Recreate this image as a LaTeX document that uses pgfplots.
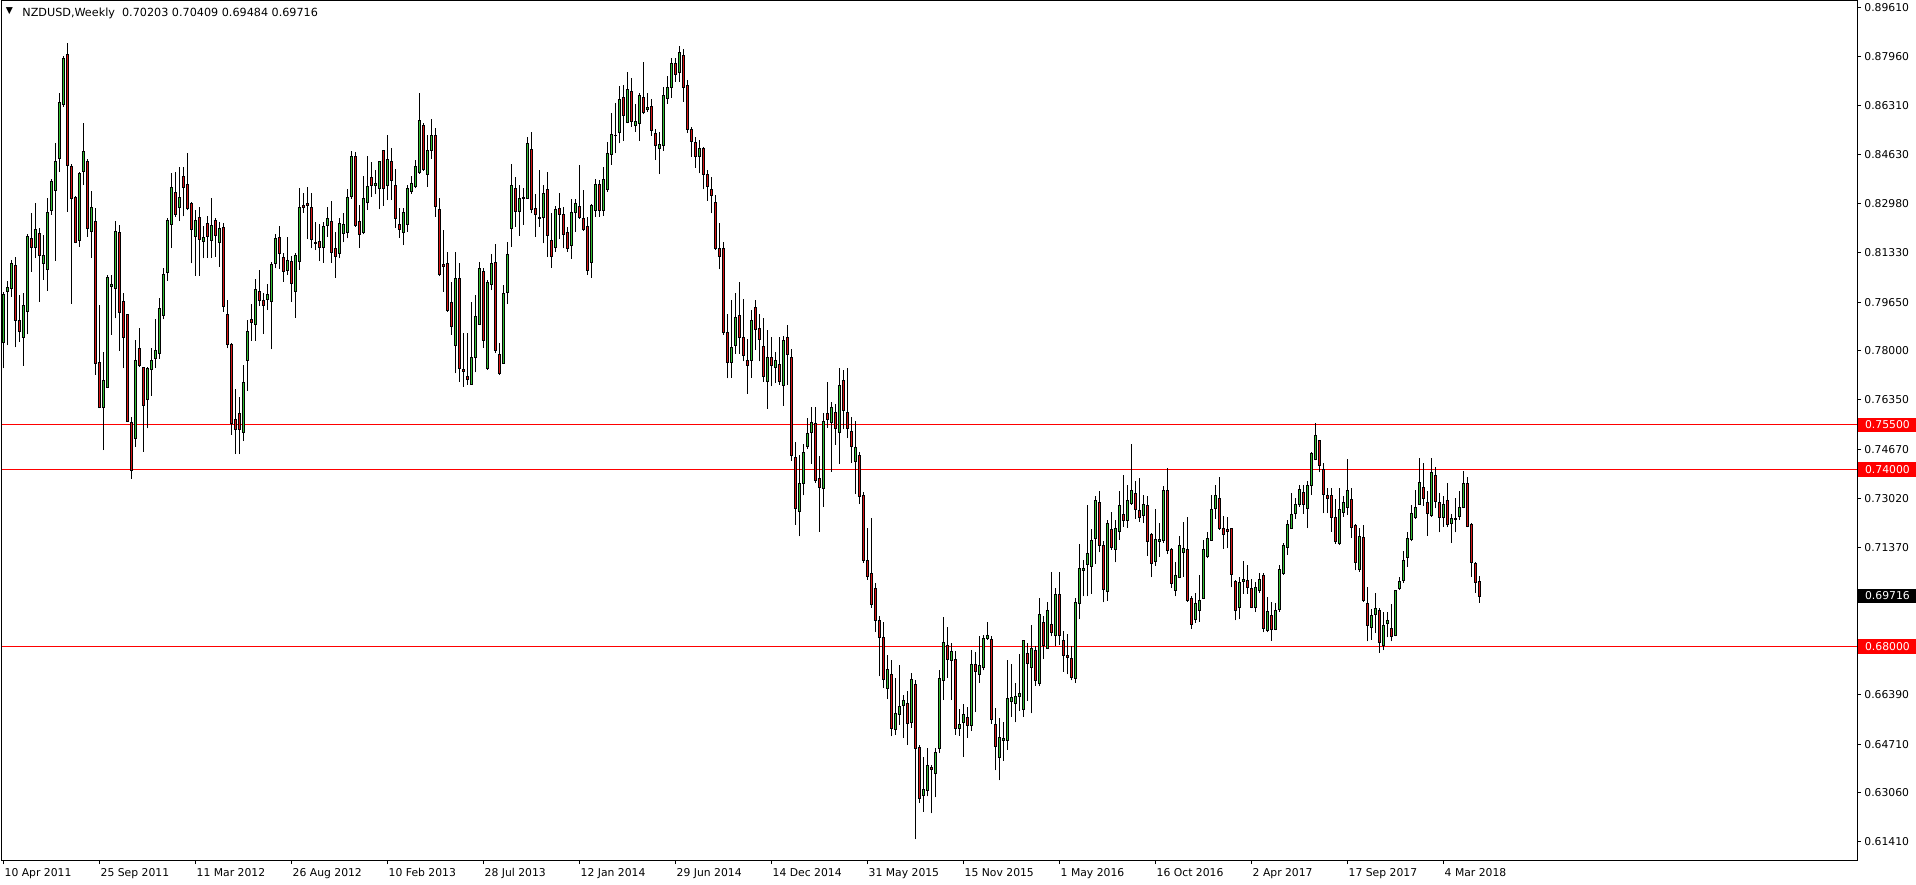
\documentclass[border=0pt]{standalone}
\usepackage{fontspec}
\setmainfont{DejaVu Sans}
\usepackage{pgfplots}
\usepackage{pgfplotstable}
\pgfplotsset{compat=1.18}

\definecolor{bull}{RGB}{50,190,50}
\definecolor{bear}{RGB}{215,20,20}
\definecolor{lvl}{RGB}{255,0,0}

% NZDUSD weekly candles, bar 0 = week of 10 Apr 2011
\pgfplotstableread{
i o h l c
0 0.7829 0.8001 0.7741 0.7990
1 0.8001 0.8035 0.7820 0.8016
2 0.8012 0.8107 0.7984 0.8096
3 0.8089 0.8116 0.7812 0.7903
4 0.7903 0.7990 0.7831 0.7866
5 0.7846 0.7995 0.7750 0.7954
6 0.7933 0.8195 0.7856 0.8187
7 0.8180 0.8265 0.8068 0.8150
8 0.8150 0.8300 0.8114 0.8211
9 0.8198 0.8214 0.7967 0.8122
10 0.8096 0.8192 0.8040 0.8123
11 0.8076 0.8317 0.8004 0.8269
12 0.8274 0.8381 0.8260 0.8373
13 0.8343 0.8502 0.8105 0.8441
14 0.8450 0.8671 0.8406 0.8640
15 0.8634 0.8797 0.8626 0.8790
16 0.8803 0.8840 0.8271 0.8427
17 0.8425 0.8432 0.7960 0.8315
18 0.8319 0.8325 0.8164 0.8168
19 0.8173 0.8406 0.8152 0.8400
20 0.8406 0.8571 0.8361 0.8475
21 0.8442 0.8448 0.8186 0.8213
22 0.8204 0.8340 0.8115 0.8285
23 0.8238 0.8282 0.7719 0.7758
24 0.7761 0.7955 0.7606 0.7608
25 0.7608 0.7796 0.7465 0.7700
26 0.7676 0.8056 0.7676 0.8049
27 0.8017 0.8057 0.7854 0.8025
28 0.8010 0.8238 0.7910 0.8204
29 0.8202 0.8225 0.7800 0.7929
30 0.7967 0.7995 0.7741 0.7846
31 0.7924 0.7926 0.7559 0.7561
32 0.7557 0.7578 0.7368 0.7395
33 0.7504 0.7837 0.7476 0.7768
34 0.7809 0.7878 0.7747 0.7750
35 0.7744 0.7747 0.7459 0.7615
36 0.7636 0.7747 0.7538 0.7741
37 0.7737 0.7809 0.7648 0.7768
38 0.7775 0.7907 0.7744 0.7802
39 0.7792 0.7978 0.7773 0.7944
40 0.7919 0.8080 0.7907 0.8059
41 0.8066 0.8250 0.8037 0.8242
42 0.8227 0.8403 0.8148 0.8353
43 0.8336 0.8405 0.8254 0.8262
44 0.8285 0.8423 0.8239 0.8319
45 0.8390 0.8423 0.8255 0.8352
46 0.8363 0.8468 0.8276 0.8282
47 0.8299 0.8303 0.8096 0.8210
48 0.8186 0.8275 0.8054 0.8242
49 0.8250 0.8287 0.8054 0.8177
50 0.8170 0.8222 0.8113 0.8184
51 0.8231 0.8256 0.8115 0.8186
52 0.8174 0.8317 0.8115 0.8225
53 0.8242 0.8250 0.8119 0.8189
54 0.8167 0.8235 0.8085 0.8214
55 0.8218 0.8231 0.7933 0.7951
56 0.7924 0.7972 0.7809 0.7822
57 0.7822 0.7826 0.7516 0.7555
58 0.7569 0.7671 0.7451 0.7533
59 0.7589 0.7644 0.7451 0.7535
60 0.7525 0.7752 0.7495 0.7694
61 0.7767 0.7905 0.7666 0.7866
62 0.7907 0.7958 0.7835 0.7896
63 0.7890 0.8042 0.7835 0.8008
64 0.8001 0.8074 0.7952 0.7972
65 0.7969 0.7995 0.7857 0.7953
66 0.7973 0.8025 0.7938 0.7991
67 0.7967 0.8102 0.7805 0.8093
68 0.8095 0.8195 0.8079 0.8181
69 0.8184 0.8224 0.8077 0.8129
70 0.8116 0.8130 0.8034 0.8068
71 0.8071 0.8184 0.8057 0.8106
72 0.8104 0.8122 0.7967 0.8027
73 0.8000 0.8130 0.7912 0.8123
74 0.8102 0.8351 0.8074 0.8286
75 0.8293 0.8333 0.8267 0.8284
76 0.8297 0.8354 0.8177 0.8291
77 0.8286 0.8333 0.8147 0.8176
78 0.8168 0.8235 0.8141 0.8163
79 0.8171 0.8229 0.8104 0.8149
80 0.8149 0.8236 0.8098 0.8222
81 0.8224 0.8287 0.8186 0.8248
82 0.8239 0.8307 0.8098 0.8132
83 0.8147 0.8201 0.8048 0.8119
84 0.8130 0.8251 0.8113 0.8231
85 0.8198 0.8265 0.8167 0.8229
86 0.8201 0.8349 0.8181 0.8320
87 0.8322 0.8477 0.8314 0.8458
88 0.8458 0.8474 0.8220 0.8225
89 0.8239 0.8293 0.8149 0.8194
90 0.8201 0.8390 0.8194 0.8314
91 0.8302 0.8459 0.8276 0.8356
92 0.8387 0.8440 0.8322 0.8359
93 0.8359 0.8412 0.8329 0.8367
94 0.8350 0.8443 0.8279 0.8442
95 0.8477 0.8479 0.8291 0.8350
96 0.8359 0.8530 0.8310 0.8448
97 0.8442 0.8485 0.8310 0.8377
98 0.8360 0.8414 0.8215 0.8247
99 0.8228 0.8284 0.8183 0.8212
100 0.8200 0.8284 0.8158 0.8269
101 0.8228 0.8362 0.8203 0.8350
102 0.8338 0.8393 0.8331 0.8367
103 0.8355 0.8446 0.8350 0.8423
104 0.8404 0.8671 0.8399 0.8579
105 0.8563 0.8569 0.8409 0.8414
106 0.8396 0.8530 0.8355 0.8476
107 0.8477 0.8583 0.8449 0.8529
108 0.8529 0.8553 0.8254 0.8288
109 0.8279 0.8316 0.8053 0.8059
110 0.8091 0.8209 0.8000 0.8085
111 0.8096 0.8133 0.7933 0.7938
112 0.7964 0.8034 0.7854 0.7882
113 0.7820 0.8133 0.7724 0.8045
114 0.8045 0.8096 0.7696 0.7740
115 0.7736 0.7860 0.7679 0.7730
116 0.7712 0.7860 0.7685 0.7704
117 0.7687 0.7967 0.7685 0.7778
118 0.7778 0.7989 0.7728 0.7916
119 0.7890 0.8102 0.7888 0.8079
120 0.8068 0.8079 0.7811 0.7835
121 0.7740 0.8040 0.7736 0.8032
122 0.8025 0.8128 0.8006 0.8096
123 0.8098 0.8160 0.7794 0.7801
124 0.7788 0.7826 0.7719 0.7724
125 0.7758 0.8023 0.7756 0.7995
126 0.7998 0.8167 0.7958 0.8127
127 0.8214 0.8431 0.8153 0.8360
128 0.8350 0.8387 0.8220 0.8271
129 0.8271 0.8361 0.8190 0.8314
130 0.8316 0.8350 0.8226 0.8319
131 0.8316 0.8522 0.8314 0.8502
132 0.8482 0.8539 0.8265 0.8277
133 0.8282 0.8329 0.8186 0.8262
134 0.8252 0.8412 0.8220 0.8247
135 0.8252 0.8361 0.8164 0.8333
136 0.8346 0.8404 0.8119 0.8192
137 0.8174 0.8265 0.8081 0.8119
138 0.8150 0.8290 0.8136 0.8279
139 0.8282 0.8333 0.8178 0.8262
140 0.8263 0.8288 0.8147 0.8194
141 0.8201 0.8220 0.8136 0.8146
142 0.8157 0.8313 0.8111 0.8269
143 0.8267 0.8314 0.8203 0.8299
144 0.8289 0.8429 0.8246 0.8250
145 0.8248 0.8344 0.8205 0.8209
146 0.8220 0.8254 0.8057 0.8071
147 0.8100 0.8298 0.8048 0.8292
148 0.8276 0.8381 0.8254 0.8363
149 0.8364 0.8378 0.8254 0.8274
150 0.8276 0.8423 0.8257 0.8380
151 0.8347 0.8505 0.8338 0.8466
152 0.8464 0.8603 0.8429 0.8532
153 0.8527 0.8637 0.8468 0.8530
154 0.8538 0.8696 0.8502 0.8651
155 0.8657 0.8699 0.8511 0.8595
156 0.8572 0.8742 0.8569 0.8684
157 0.8678 0.8722 0.8558 0.8575
158 0.8562 0.8635 0.8541 0.8577
159 0.8569 0.8671 0.8510 0.8662
160 0.8658 0.8776 0.8600 0.8607
161 0.8617 0.8671 0.8607 0.8624
162 0.8627 0.8652 0.8527 0.8545
163 0.8536 0.8549 0.8445 0.8494
164 0.8484 0.8541 0.8398 0.8498
165 0.8494 0.8693 0.8477 0.8662
166 0.8653 0.8731 0.8635 0.8691
167 0.8690 0.8789 0.8656 0.8772
168 0.8772 0.8789 0.8710 0.8735
169 0.8742 0.8831 0.8710 0.8810
170 0.8800 0.8820 0.8643 0.8691
171 0.8696 0.8716 0.8536 0.8549
172 0.8550 0.8558 0.8457 0.8507
173 0.8504 0.8524 0.8420 0.8457
174 0.8457 0.8513 0.8400 0.8483
175 0.8486 0.8488 0.8346 0.8397
176 0.8395 0.8412 0.8308 0.8355
177 0.8347 0.8389 0.8265 0.8325
178 0.8302 0.8327 0.8141 0.8145
179 0.8145 0.8231 0.8076 0.8119
180 0.8147 0.8168 0.7854 0.7864
181 0.7864 0.7924 0.7707 0.7761
182 0.7761 0.7972 0.7710 0.7813
183 0.7819 0.7996 0.7791 0.7913
184 0.7920 0.8033 0.7791 0.7846
185 0.7846 0.7976 0.7765 0.7784
186 0.7768 0.7841 0.7656 0.7750
187 0.7768 0.7937 0.7710 0.7904
188 0.7946 0.7972 0.7803 0.7873
189 0.7877 0.7924 0.7765 0.7840
190 0.7815 0.7912 0.7696 0.7714
191 0.7696 0.7871 0.7605 0.7777
192 0.7777 0.7847 0.7680 0.7750
193 0.7744 0.7795 0.7692 0.7768
194 0.7753 0.7847 0.7686 0.7698
195 0.7683 0.7852 0.7614 0.7837
196 0.7847 0.7888 0.7686 0.7789
197 0.7779 0.7807 0.7429 0.7447
198 0.7439 0.7491 0.7213 0.7269
199 0.7258 0.7448 0.7173 0.7351
200 0.7353 0.7485 0.7312 0.7457
201 0.7477 0.7574 0.7469 0.7520
202 0.7526 0.7610 0.7418 0.7559
203 0.7556 0.7610 0.7354 0.7363
204 0.7369 0.7445 0.7189 0.7340
205 0.7336 0.7590 0.7273 0.7562
206 0.7590 0.7695 0.7541 0.7568
207 0.7559 0.7626 0.7391 0.7610
208 0.7593 0.7620 0.7483 0.7538
209 0.7526 0.7741 0.7418 0.7683
210 0.7701 0.7735 0.7535 0.7598
211 0.7593 0.7743 0.7505 0.7538
212 0.7529 0.7578 0.7421 0.7477
213 0.7427 0.7562 0.7316 0.7473
214 0.7448 0.7457 0.7282 0.7308
215 0.7312 0.7324 0.7083 0.7092
216 0.7092 0.7203 0.7026 0.7038
217 0.7049 0.7234 0.6932 0.6942
218 0.6996 0.7015 0.6850 0.6890
219 0.6890 0.6904 0.6700 0.6830
220 0.6831 0.6885 0.6660 0.6690
221 0.6660 0.6773 0.6623 0.6722
222 0.6705 0.6756 0.6497 0.6525
223 0.6521 0.6694 0.6502 0.6575
224 0.6572 0.6739 0.6536 0.6598
225 0.6601 0.6637 0.6491 0.6620
226 0.6609 0.6651 0.6468 0.6542
227 0.6544 0.6711 0.6527 0.6690
228 0.6671 0.6688 0.6149 0.6457
229 0.6460 0.6468 0.6271 0.6288
230 0.6298 0.6429 0.6243 0.6318
231 0.6314 0.6459 0.6294 0.6397
232 0.6391 0.6401 0.6237 0.6385
233 0.6373 0.6457 0.6291 0.6443
234 0.6457 0.6720 0.6440 0.6694
235 0.6685 0.6899 0.6620 0.6814
236 0.6804 0.6866 0.6696 0.6756
237 0.6752 0.6812 0.6620 0.6783
238 0.6758 0.6786 0.6502 0.6525
239 0.6525 0.6589 0.6499 0.6536
240 0.6544 0.6607 0.6429 0.6570
241 0.6562 0.6598 0.6493 0.6534
242 0.6534 0.6790 0.6516 0.6739
243 0.6741 0.6782 0.6579 0.6716
244 0.6707 0.6835 0.6679 0.6735
245 0.6731 0.6840 0.6720 0.6829
246 0.6829 0.6885 0.6823 0.6837
247 0.6826 0.6837 0.6539 0.6555
248 0.6536 0.6592 0.6382 0.6463
249 0.6427 0.6558 0.6348 0.6494
250 0.6483 0.6545 0.6415 0.6489
251 0.6483 0.6756 0.6451 0.6626
252 0.6615 0.6742 0.6564 0.6629
253 0.6609 0.6679 0.6544 0.6632
254 0.6632 0.6776 0.6584 0.6641
255 0.6587 0.6823 0.6564 0.6820
256 0.6778 0.6814 0.6618 0.6744
257 0.6731 0.6874 0.6575 0.6795
258 0.6789 0.6801 0.6669 0.6686
259 0.6677 0.6966 0.6666 0.6908
260 0.6883 0.6904 0.6758 0.6804
261 0.6794 0.6953 0.6792 0.6921
262 0.6876 0.7054 0.6835 0.6848
263 0.6838 0.6998 0.6803 0.6978
264 0.6975 0.7054 0.6806 0.6838
265 0.6820 0.6852 0.6716 0.6770
266 0.6770 0.6844 0.6707 0.6765
267 0.6761 0.6801 0.6686 0.6697
268 0.6694 0.6964 0.6677 0.6951
269 0.6947 0.7148 0.6893 0.7063
270 0.7057 0.7094 0.6970 0.7066
271 0.7077 0.7280 0.6970 0.7116
272 0.7071 0.7197 0.6979 0.7160
273 0.7167 0.7308 0.7080 0.7293
274 0.7289 0.7325 0.7119 0.7142
275 0.7141 0.7156 0.6950 0.6995
276 0.6987 0.7229 0.6956 0.7218
277 0.7195 0.7255 0.7128 0.7136
278 0.7130 0.7229 0.7085 0.7201
279 0.7190 0.7325 0.7161 0.7276
280 0.7248 0.7381 0.7206 0.7227
281 0.7227 0.7347 0.7203 0.7293
282 0.7283 0.7486 0.7280 0.7327
283 0.7319 0.7362 0.7232 0.7265
284 0.7259 0.7370 0.7223 0.7237
285 0.7244 0.7313 0.7218 0.7282
286 0.7276 0.7310 0.7107 0.7156
287 0.7178 0.7186 0.7035 0.7082
288 0.7088 0.7266 0.7074 0.7161
289 0.7156 0.7218 0.7105 0.7161
290 0.7158 0.7342 0.7150 0.7327
291 0.7327 0.7406 0.7113 0.7124
292 0.7128 0.7133 0.6998 0.7015
293 0.6990 0.7088 0.6970 0.7040
294 0.7035 0.7173 0.7031 0.7141
295 0.7120 0.7223 0.7037 0.7133
296 0.7128 0.7240 0.6953 0.6956
297 0.6962 0.6970 0.6860 0.6876
298 0.6891 0.6981 0.6880 0.6945
299 0.6922 0.7043 0.6885 0.6955
300 0.6964 0.7161 0.6962 0.7128
301 0.7105 0.7189 0.7099 0.7167
302 0.7159 0.7313 0.7158 0.7263
303 0.7268 0.7347 0.7232 0.7313
304 0.7302 0.7373 0.7195 0.7201
305 0.7201 0.7242 0.7131 0.7180
306 0.7195 0.7240 0.7133 0.7189
307 0.7201 0.7203 0.7001 0.7045
308 0.7020 0.7026 0.6889 0.6922
309 0.6934 0.7037 0.6893 0.7018
310 0.7020 0.7090 0.6979 0.7028
311 0.7025 0.7077 0.6979 0.7001
312 0.6998 0.7028 0.6930 0.6932
313 0.6934 0.7018 0.6917 0.7001
314 0.6990 0.7051 0.6981 0.7028
315 0.7040 0.7049 0.6849 0.6863
316 0.6854 0.6967 0.6849 0.6919
317 0.6905 0.6953 0.6820 0.6857
318 0.6859 0.6949 0.6855 0.6922
319 0.6927 0.7077 0.6919 0.7062
320 0.7049 0.7150 0.7043 0.7144
321 0.7136 0.7227 0.7111 0.7212
322 0.7201 0.7319 0.7198 0.7248
323 0.7251 0.7302 0.7232 0.7282
324 0.7280 0.7347 0.7274 0.7333
325 0.7322 0.7347 0.7249 0.7282
326 0.7268 0.7361 0.7201 0.7345
327 0.7344 0.7458 0.7313 0.7454
328 0.7432 0.7556 0.7430 0.7513
329 0.7496 0.7499 0.7390 0.7414
330 0.7400 0.7420 0.7251 0.7316
331 0.7310 0.7336 0.7251 0.7302
332 0.7312 0.7336 0.7189 0.7238
333 0.7238 0.7300 0.7148 0.7156
334 0.7150 0.7336 0.7144 0.7263
335 0.7254 0.7308 0.7240 0.7289
336 0.7272 0.7434 0.7246 0.7328
337 0.7299 0.7336 0.7167 0.7204
338 0.7210 0.7214 0.7058 0.7086
339 0.7062 0.7201 0.7054 0.7173
340 0.7170 0.7212 0.6953 0.6958
341 0.6947 0.7003 0.6818 0.6872
342 0.6866 0.6927 0.6823 0.6905
343 0.6908 0.6981 0.6846 0.6930
344 0.6922 0.6930 0.6780 0.6814
345 0.6804 0.6917 0.6789 0.6872
346 0.6880 0.6916 0.6832 0.6890
347 0.6863 0.6944 0.6818 0.6835
348 0.6837 0.6992 0.6835 0.6989
349 0.6998 0.7037 0.6992 0.7020
350 0.7024 0.7124 0.7015 0.7090
351 0.7102 0.7189 0.7071 0.7167
352 0.7164 0.7280 0.7156 0.7251
353 0.7237 0.7330 0.7232 0.7272
354 0.7282 0.7437 0.7280 0.7356
355 0.7339 0.7420 0.7276 0.7302
356 0.7289 0.7327 0.7176 0.7251
357 0.7244 0.7437 0.7240 0.7390
358 0.7378 0.7407 0.7268 0.7291
359 0.7289 0.7319 0.7187 0.7238
360 0.7238 0.7310 0.7206 0.7280
361 0.7293 0.7355 0.7204 0.7214
362 0.7218 0.7248 0.7152 0.7232
363 0.7232 0.7302 0.7187 0.7229
364 0.7240 0.7325 0.7229 0.7272
365 0.7272 0.7395 0.7268 0.7353
366 0.7353 0.7375 0.7204 0.7206
367 0.7214 0.7220 0.7037 0.7085
368 0.7082 0.7085 0.6983 0.7017
369 0.70203 0.70409 0.69484 0.69716
}\nzd

\pgfplotsset{
  chartgeom/.style={
    scale only axis, width=927.5pt, height=429.5pt,
    at={(1pt,12pt)}, anchor=south west,
    xmin=-0.325, xmax=463.425, ymin=0.60791, ymax=0.89831,
  },
}

\begin{document}
\begin{tikzpicture}
\path[use as bounding box] (0,0) rectangle (958pt,442pt);

% frame, ticks, level lines and wicks
\begin{axis}[chartgeom,
  axis line style={black, line width=0.5pt},
  xtick={0,24,...,360},
  xticklabels={10 Apr 2011, 25 Sep 2011, 11 Mar 2012, 26 Aug 2012, 10 Feb 2013, 28 Jul 2013, 12 Jan 2014, 29 Jun 2014, 14 Dec 2014, 31 May 2015, 15 Nov 2015, 1 May 2016, 16 Oct 2016, 2 Apr 2017, 17 Sep 2017, 4 Mar 2018},
  ytick={0.8961,0.8796,0.8631,0.8463,0.8298,0.8133,0.7965,0.78,0.7635,0.7467,0.7302,0.7137,0.6639,0.6471,0.6306,0.6141},
  yticklabels={0.89610,0.87960,0.86310,0.84630,0.82980,0.81330,0.79650,0.78000,0.76350,0.74670,0.73020,0.71370,0.66390,0.64710,0.63060,0.61410},
  xtick pos=bottom, ytick pos=right, yticklabel pos=right,
  tick align=outside, major tick length=2pt,
  tick style={black, line width=0.5pt},
  ticklabel style={font=\fontsize{5.4}{6.5}\selectfont, text=black},
  yticklabel style={anchor=west, inner xsep=1.5pt},
  xticklabel style={anchor=north west, inner xsep=0.5pt, yshift=1.2pt},
]
\addplot[lvl, line width=0.5pt] coordinates {(-0.325,0.755) (463.425,0.755)};
\addplot[lvl, line width=0.5pt] coordinates {(-0.325,0.740) (463.425,0.740)};
\addplot[lvl, line width=0.5pt] coordinates {(-0.325,0.680) (463.425,0.680)};
\addplot[draw=none, mark=none,
  error bars/.cd, y dir=plus, y explicit, error mark=none,
  error bar style={draw=black, line width=0.5pt}]
  table[x=i, y=l, y error plus expr=\thisrow{h}-\thisrow{l}] {\nzd};
\coordinate (l755) at (axis cs:463.425,0.755);
\coordinate (l740) at (axis cs:463.425,0.740);
\coordinate (l680) at (axis cs:463.425,0.680);
\coordinate (lnow) at (axis cs:463.425,0.69716);
\end{axis}

% candle bodies
\begin{axis}[chartgeom, hide axis, ybar stacked, bar width=0.55]
\addplot[draw=none, fill=none] table[x=i, y expr={min(\thisrow{o},\thisrow{c})}] {\nzd};
\addplot[draw=black, line width=0.5pt, fill=bull] table[x=i, y expr={max(\thisrow{c}-\thisrow{o},0)}] {\nzd};
\addplot[draw=black, line width=0.5pt, fill=bear] table[x=i, y expr={max(\thisrow{o}-\thisrow{c},0)}] {\nzd};
\end{axis}

\tikzset{pricetag/.style={anchor=west, xshift=0.5pt, text=white, inner xsep=0pt, inner ysep=0pt,
  minimum height=7.4pt, minimum width=29pt, font=\fontsize{5.4}{6.5}\selectfont}}
\node[pricetag, fill=lvl] at (l755) {0.75500};
\node[pricetag, fill=lvl] at (l740) {0.74000};
\node[pricetag, fill=lvl] at (l680) {0.68000};
\node[pricetag, fill=black] at (lnow) {0.69716};

\node[font=\fontsize{4.6}{5}\selectfont, inner sep=0pt] at (4.75pt,436.6pt) {▼};
\node[anchor=base west, inner sep=0pt, font=\fontsize{5.6}{7}\selectfont] at (11pt,433.8pt)
  {NZDUSD,Weekly\ \ 0.70203 0.70409 0.69484 0.69716};
\end{tikzpicture}
\end{document}
